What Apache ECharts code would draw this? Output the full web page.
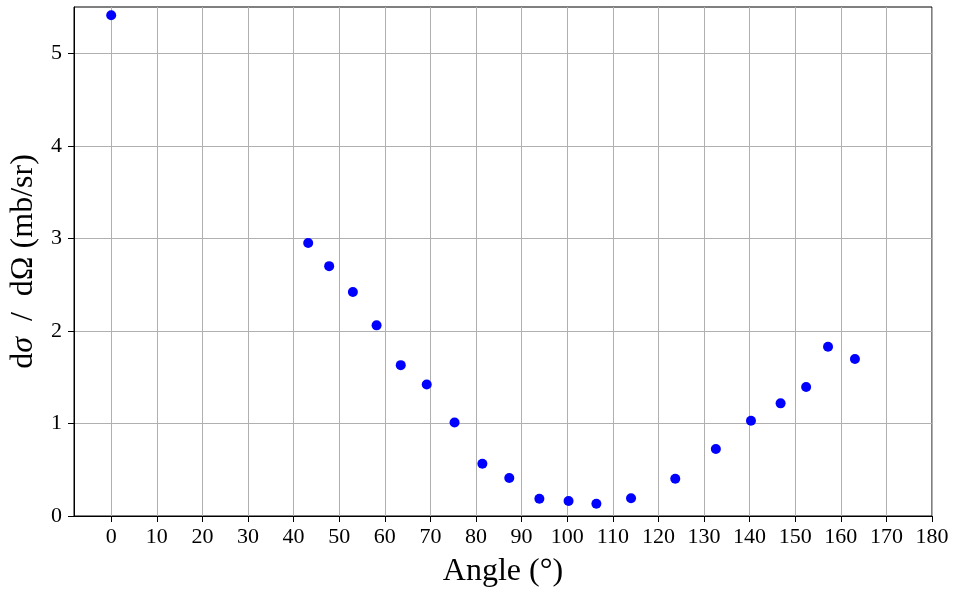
<!DOCTYPE html>
<html>
<head>
<meta charset="utf-8">
<script src="https://cdn.jsdelivr.net/npm/echarts@6/dist/echarts.min.js"></script>
<style>
  html, body { margin: 0; padding: 0; background: #fff; }
  #chart { width: 953px; height: 591px; }
</style>
</head>
<body>
<div id="chart"></div>
<script>
// Differential cross section versus scattering angle
const angles = [0, 43.2, 47.8, 53.0, 58.2, 63.5, 69.2, 75.3, 81.4, 87.3, 93.9, 100.3, 106.4, 114.0, 123.7, 132.6, 140.3, 146.8, 152.4, 157.2, 163.1];
const crossSection = [5.41, 2.95, 2.70, 2.42, 2.06, 1.63, 1.42, 1.01, 0.565, 0.41, 0.187, 0.162, 0.133, 0.191, 0.403, 0.724, 1.03, 1.217, 1.393, 1.829, 1.696];
const xTicks = [0, 10, 20, 30, 40, 50, 60, 70, 80, 90, 100, 110, 120, 130, 140, 150, 160, 170, 180];
const yTicks = [0, 1, 2, 3, 4, 5];

const serif = '"Liberation Serif", "DejaVu Serif", serif';
const xSpan = Math.max(...angles) - Math.min(...angles);
const xMin = Math.min(...angles) - 0.05 * xSpan;

const chart = echarts.init(document.getElementById('chart'), null, { renderer: 'canvas' });
chart.setOption({
  animation: false,
  backgroundColor: '#ffffff',
  grid: {
    left: 74, right: 21, top: 7, bottom: 75,
    outerBoundsMode: 'none',
    containLabel: false,
    show: true, borderColor: '#000', borderWidth: 1, backgroundColor: 'transparent'
  },
  xAxis: {
    type: 'value',
    min: xMin,
    max: 180,
    name: 'Angle (°)',
    nameLocation: 'middle',
    nameGap: 40,
    nameTextStyle: { fontFamily: serif, fontSize: 32, color: '#000' },
    axisLine: { show: true, onZero: false, lineStyle: { color: '#000', width: 1 } },
    axisTick: { show: true, inside: false, length: 6, customValues: xTicks, lineStyle: { color: '#000' } },
    axisLabel: { customValues: xTicks, margin: 10, fontFamily: serif, fontSize: 22, color: '#000' },
    splitLine: { show: true, customValues: xTicks, lineStyle: { color: '#b0b0b0', width: 1 } }
  },
  yAxis: {
    type: 'value',
    min: 0,
    max: 5.5,
    name: '{r|d}{i|σ}{r|  /  dΩ (mb/sr)}',
    nameLocation: 'middle',
    nameRotate: 90,
    nameGap: 34,
    nameTextStyle: {
      fontFamily: serif, fontSize: 32, color: '#000',
      rich: {
        r: { fontFamily: serif, fontSize: 32, color: '#000' },
        i: { fontFamily: serif, fontSize: 32, fontStyle: 'italic', color: '#000' }
      }
    },
    axisLine: { show: true, onZero: false, lineStyle: { color: '#000', width: 1 } },
    axisTick: { show: true, inside: false, length: 6, customValues: yTicks, lineStyle: { color: '#000' } },
    axisLabel: { customValues: yTicks, margin: 12, fontFamily: serif, fontSize: 22, color: '#000' },
    splitLine: { show: true, customValues: yTicks, lineStyle: { color: '#b0b0b0', width: 1 } }
  },
  series: [{
    type: 'scatter',
    data: angles.map((a, i) => [a, crossSection[i]]),
    symbol: 'circle',
    symbolSize: 10,
    itemStyle: { color: '#0000ff', opacity: 1 },
    clip: false
  }]
});
</script>
</body>
</html>
